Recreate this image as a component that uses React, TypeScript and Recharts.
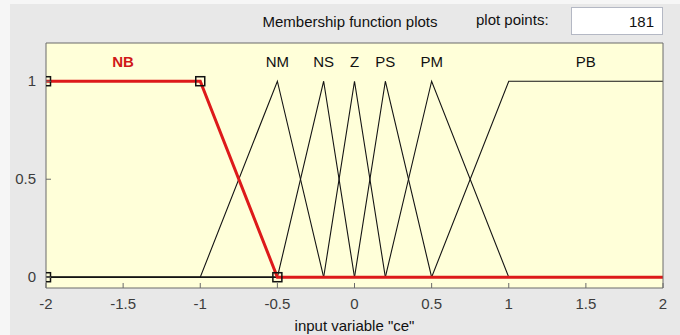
import { ComposedChart, Line, XAxis, YAxis, Scatter, ReferenceDot, CartesianGrid } from "recharts";

// membership functions of input "ce" (vertices, full range -2..2)
const nbX = [-2, -1, -0.5, 2];
const nbY = [1, 1, 0, 0];
const nmX = [-2, -1, -0.5, -0.2, 2];
const nmY = [0, 0, 1, 0, 0];
const nsX = [-2, -0.5, -0.2, 0, 2];
const nsY = [0, 0, 1, 0, 0];
const zX = [-2, -0.2, 0, 0.2, 2];
const zY = [0, 0, 1, 0, 0];
const psX = [-2, 0, 0.2, 0.5, 2];
const psY = [0, 0, 1, 0, 0];
const pmX = [-2, 0.2, 0.5, 1, 2];
const pmY = [0, 0, 1, 0, 0];
const pbX = [-2, 0.5, 1, 2];
const pbY = [0, 0, 1, 1];

// handles of the selected MF (NB)
const handleX = [-2, -2, -1, -0.5];
const handleY = [0, 1, 1, 0];

const mfNames = ["NB", "NM", "NS", "Z", "PS", "PM", "PB"];
const mfLabelX = [-1.5, -0.5, -0.2, 0, 0.2, 0.5, 1.5];
const mfLabelY = 1.1;

const xTicks = [-2, -1.5, -1, -0.5, 0, 0.5, 1, 1.5, 2];
const yTicks = [0, 0.5, 1];

const toPoints = (xs: number[], ys: number[]) => xs.map((x, i) => ({ x, y: ys[i] }));

const blackMfs = [
  toPoints(nmX, nmY),
  toPoints(nsX, nsY),
  toPoints(zX, zY),
  toPoints(psX, psY),
  toPoints(pmX, pmY),
  toPoints(pbX, pbY),
];
const nbData = toPoints(nbX, nbY);
const handles = toPoints(handleX, handleY);

const FONT = '"Liberation Sans", Arial, sans-serif';
const AXIS = "#6a6a6a";
const LABEL = "#3c3c3c";

const BottomTick = (props: any) => {
  const { x, y, payload } = props;
  return (
    <g>
      <line x1={x} x2={x} y1={y} y2={y - 5} stroke={AXIS} />
      <text x={x} y={y + 21} textAnchor="middle" fill={LABEL} fontSize={15} fontFamily={FONT}>
        {String(payload.value)}
      </text>
    </g>
  );
};

const LeftTick = (props: any) => {
  const { x, y, payload } = props;
  return (
    <g>
      <line x1={x} x2={x + 5} y1={y} y2={y} stroke={AXIS} />
      <text x={x - 10} y={y + 5} textAnchor="end" fill={LABEL} fontSize={15} fontFamily={FONT}>
        {String(payload.value)}
      </text>
    </g>
  );
};

const Square = (props: any) => {
  const { cx, cy } = props;
  return <rect x={cx - 4.5} y={cy - 4.5} width={9} height={9} fill="none" stroke="#111" strokeWidth={1.5} />;
};

export default function App() {
  return (
    <div style={{ position: "absolute", left: 0, top: 0, width: 680, height: 335, background: "#f6f6f6", fontFamily: FONT }}>
      <svg width={680} height={335} style={{ position: "absolute", left: 0, top: 0 }}>
        <rect x={10} y={4} width={670} height={331} fill="#e8e8e8" />
        <text x={350} y={27} textAnchor="middle" fontSize={15} fill="#111" fontFamily={FONT}>
          Membership function plots
        </text>
        <text x={476} y={25} fontSize={15} fill="#111" fontFamily={FONT}>
          plot points:
        </text>
        <rect x={571.5} y={7.5} width={91} height={27} fill="#ffffff" stroke="#b4b8c4" />
        <text x={654} y={27} textAnchor="end" fontSize={15} fill="#111" fontFamily={FONT}>
          181
        </text>
      </svg>
      <div style={{ position: "absolute", left: 0, top: 0 }}>
        <ComposedChart width={680} height={335} margin={{ top: 43, right: 17, bottom: 17, left: 16 }}>
          <CartesianGrid horizontal={false} vertical={false} fill="#ffffd9" />
          <XAxis
            dataKey="x"
            type="number"
            domain={[-2, 2]}
            ticks={xTicks}
            interval={0}
            allowDataOverflow
            height={30}
            stroke={AXIS}
            tickLine={false}
            tickSize={0}
            tickMargin={0}
            tick={<BottomTick />}
            label={{ value: 'input variable "ce"', position: "bottom", offset: 2, fill: "#111", fontSize: 15, fontFamily: FONT }}
          />
          <XAxis
            xAxisId="top"
            orientation="top"
            mirror
            type="number"
            domain={[-2, 2]}
            ticks={xTicks}
            interval={0}
            stroke={AXIS}
            tick={false}
            tickSize={5}
          />
          <YAxis
            type="number"
            domain={[-0.055, 1.195]}
            ticks={yTicks}
            interval={0}
            allowDataOverflow
            width={30}
            stroke={AXIS}
            tickLine={false}
            tickSize={0}
            tickMargin={0}
            tick={<LeftTick />}
          />
          <YAxis
            yAxisId="right"
            orientation="right"
            mirror
            type="number"
            domain={[-0.055, 1.195]}
            ticks={yTicks}
            interval={0}
            stroke={AXIS}
            tick={false}
            tickSize={5}
          />
          {blackMfs.map((d, i) => (
            <Line
              key={i}
              data={d}
              dataKey="y"
              type="linear"
              stroke="#141414"
              strokeWidth={1.1}
              dot={false}
              isAnimationActive={false}
            />
          ))}
          <Line
            data={nbData}
            dataKey="y"
            type="linear"
            stroke="#dd1a1a"
            strokeWidth={3}
            dot={false}
            isAnimationActive={false}
          />
          <Scatter data={handles} dataKey="y" shape={<Square />} isAnimationActive={false} />
          {mfNames.map((name, i) => (
            <ReferenceDot
              key={name}
              x={mfLabelX[i]}
              y={mfLabelY}
              r={0}
              fill="none"
              stroke="none"
              label={{
                value: name,
                position: "center",
                fill: i === 0 ? "#d01818" : "#111",
                fontWeight: i === 0 ? "bold" : "normal",
                fontSize: 15,
                fontFamily: FONT,
              }}
            />
          ))}
        </ComposedChart>
      </div>
    </div>
  );
}
